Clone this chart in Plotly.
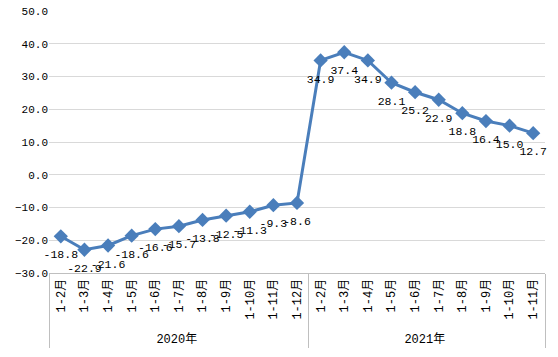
import plotly.graph_objects as go

years = ["2020年"] * 11 + ["2021年"] * 10
months = ["1-2月", "1-3月", "1-4月", "1-5月", "1-6月", "1-7月", "1-8月", "1-9月", "1-10月", "1-11月", "1-12月",
          "1-2月", "1-3月", "1-4月", "1-5月", "1-6月", "1-7月", "1-8月", "1-9月", "1-10月", "1-11月"]
values = [-18.8, -22.9, -21.6, -18.6, -16.6, -15.7, -13.8, -12.5, -11.3, -9.3, -8.6,
          34.9, 37.4, 34.9, 28.1, 25.2, 22.9, 18.8, 16.4, 15.0, 12.7]
y_ticks = [-30, -20, -10, 0, 10, 20, 30, 40, 50]

font_fam = "Liberation Mono, Noto Sans CJK SC, monospace"

fig = go.Figure()
fig.add_trace(go.Scatter(
    x=[years, months], y=values,
    mode="lines+markers",
    line=dict(color="#4a7ebb", width=3),
    marker=dict(symbol="diamond", size=11, color="#4a7ebb"),
    hoverinfo="skip",
))
# data labels (transparent, larger marker to push labels further below the points)
fig.add_trace(go.Scatter(
    x=[years, months], y=values,
    mode="markers+text",
    marker=dict(size=20, color="rgba(0,0,0,0)"),
    text=[f"{v:.1f}" for v in values],
    textposition="bottom center",
    textfont=dict(family=font_fam, size=11.5, color="#000000"),
    cliponaxis=False,
))

fig.update_layout(
    width=558, height=357,
    margin=dict(l=49, r=13, t=11, b=84),
    paper_bgcolor="white", plot_bgcolor="white",
    showlegend=False,
    font=dict(family=font_fam, size=11, color="#000000"),
)
fig.update_yaxes(
    range=[-30, 50], tickvals=y_ticks, tickformat=".1f",
    showgrid=True, gridcolor="#d9d9d9", gridwidth=1,
    zeroline=False, showline=False, ticks="",
    tickfont=dict(family=font_fam, size=11),
    automargin=False,
)
fig.update_xaxes(
    type="multicategory", tickangle=-90,
    range=[-0.5, len(values) - 0.5],
    showline=True, linecolor="#bfbfbf", linewidth=1,
    showdividers=True, dividercolor="#bfbfbf", dividerwidth=1,
    showgrid=False, ticks="",
    tickfont=dict(family=font_fam, size=12),
    automargin=False,
)

fig.write_html("out.html")
